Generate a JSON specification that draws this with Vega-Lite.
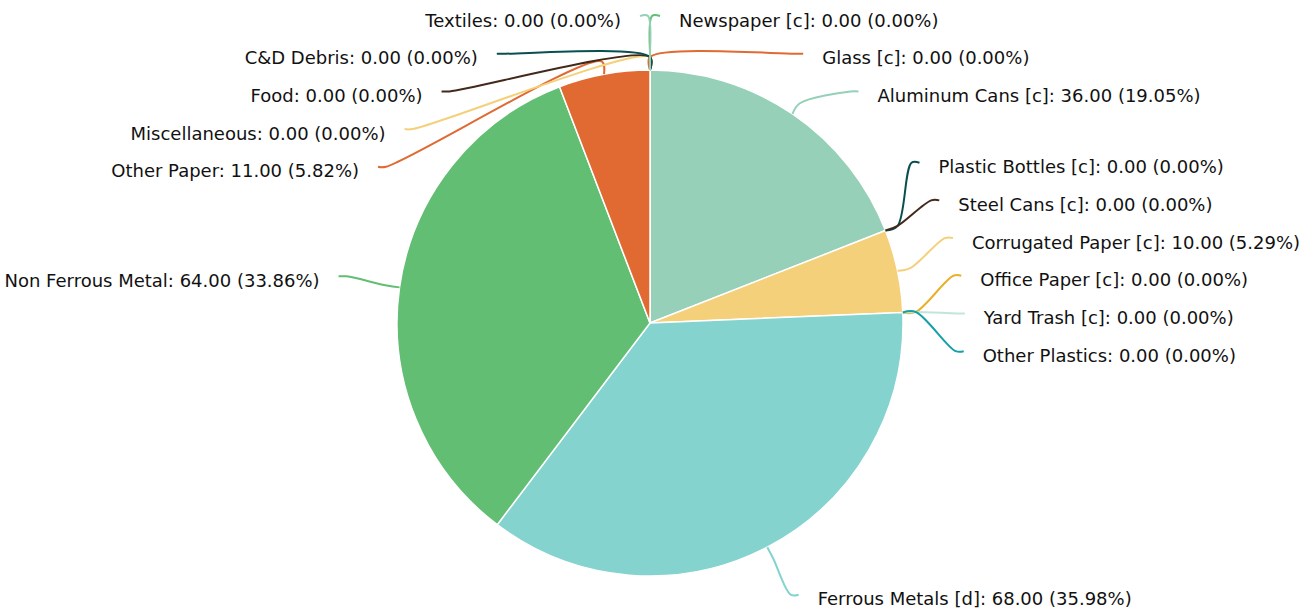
{
  "$schema": "https://vega.github.io/schema/vega-lite/v6.json",
  "width": 1300,
  "height": 580,
  "autosize": {"type": "none"},
  "padding": {"left": 0, "top": 33, "right": 11, "bottom": 0},
  "background": "white",
  "view": {"stroke": null},
  "config": {"text": {"font": "DejaVu Sans"}},
  "data": {
    "values": [
      {"name": "Newspaper [c]", "value": 0},
      {"name": "Glass [c]", "value": 0},
      {"name": "Aluminum Cans [c]", "value": 36},
      {"name": "Plastic Bottles [c]", "value": 0},
      {"name": "Steel Cans [c]", "value": 0},
      {"name": "Corrugated Paper [c]", "value": 10},
      {"name": "Office Paper [c]", "value": 0},
      {"name": "Yard Trash [c]", "value": 0},
      {"name": "Other Plastics", "value": 0},
      {"name": "Ferrous Metals [d]", "value": 68},
      {"name": "Non Ferrous Metal", "value": 64},
      {"name": "Other Paper", "value": 11},
      {"name": "Miscellaneous", "value": 0},
      {"name": "Food", "value": 0},
      {"name": "C&D Debris", "value": 0},
      {"name": "Textiles", "value": 0}
    ]
  },
  "transform": [
    {"window": [{"op": "row_number", "as": "idx"}]},
    {"joinaggregate": [{"op": "sum", "field": "value", "as": "total"}]},
    {"window": [{"op": "sum", "field": "value", "as": "cum"}], "sort": [{"field": "idx"}], "frame": [null, 0]},
    {"calculate": "(datum.cum - datum.value) / datum.total * 2 * PI", "as": "a0"},
    {"calculate": "datum.cum / datum.total * 2 * PI", "as": "a1"},
    {"calculate": "(datum.a0 + datum.a1) / 2", "as": "mid"},
    {"calculate": "datum.mid < PI ? 1 : -1", "as": "side"},
    {"calculate": "datum.side == 1 ? datum.idx : -datum.idx", "as": "sk"},
    {"calculate": "-310 * cos(datum.mid)", "as": "ny"},
    {"window": [{"op": "row_number", "as": "rn"}], "groupby": ["side"], "sort": [{"field": "sk"}]},
    {"calculate": "datum.ny - 37.7 * (datum.rn - 1)", "as": "adj"},
    {"window": [{"op": "max", "field": "adj", "as": "cumF"}], "groupby": ["side"], "sort": [{"field": "sk"}], "frame": [null, 0]},
    {"window": [{"op": "min", "field": "adj", "as": "cumB"}], "groupby": ["side"], "sort": [{"field": "sk"}], "frame": [0, null]},
    {"calculate": "37.7 * (datum.rn - 1) + (datum.cumF + datum.cumB) / 2", "as": "avg"},
    {"calculate": "datum.avg - 37.7 * (datum.rn - 1)", "as": "adj2"},
    {"window": [{"op": "max", "field": "adj2", "as": "cum2"}], "groupby": ["side"], "sort": [{"field": "sk"}], "frame": [null, 0]},
    {"calculate": "37.7 * (datum.rn - 1) + max(-304, datum.cum2)", "as": "ty"},
    {"calculate": "datum.ty - 3", "as": "ly"},
    {"calculate": "datum.side * (sqrt(max(0, 305 * 305 - datum.ly * datum.ly)) + 10)", "as": "lx"},
    {"calculate": "datum.name + ': ' + format(datum.value, '.2f') + ' (' + format(datum.value / datum.total * 100, '.2f') + '%)'", "as": "label"}
  ],
  "layer": [
    {
      "transform": [{"filter": "datum.value > 0"}],
      "mark": {"type": "arc", "outerRadius": 253, "stroke": "white", "strokeWidth": 1.5},
      "encoding": {
        "theta": {"field": "a0", "type": "quantitative", "scale": null},
        "theta2": {"field": "a1"},
        "color": {"field": "name", "type": "nominal", "legend": null, "scale": {"domain": ["Newspaper [c]", "Glass [c]", "Aluminum Cans [c]", "Plastic Bottles [c]", "Steel Cans [c]", "Corrugated Paper [c]", "Office Paper [c]", "Yard Trash [c]", "Other Plastics", "Ferrous Metals [d]", "Non Ferrous Metal", "Other Paper", "Miscellaneous", "Food", "C&D Debris", "Textiles"], "range": ["#62be72", "#e06a32", "#96d0b8", "#0a4f4f", "#42291a", "#f4d07a", "#e9b12a", "#c2e5db", "#14a0a6", "#84d3cf", "#62be72", "#e06a32", "#f4d07a", "#42291a", "#0a4f4f", "#96d0b8"]}}
      }
    },
    {
      "transform": [
        {"calculate": "[0, 1, 2, 3]", "as": "pts"},
        {"flatten": ["pts"], "as": ["k"]},
        {"calculate": "datum.k == 0 ? 253 * sin(datum.mid) : datum.k == 1 ? 266 * sin(datum.mid) : datum.k == 2 ? datum.lx - datum.side * 8 : datum.lx", "as": "px"},
        {"calculate": "datum.k == 0 ? -253 * cos(datum.mid) : datum.k == 1 ? -266 * cos(datum.mid) : datum.ly", "as": "py"}
      ],
      "mark": {"type": "line", "interpolate": "catmull-rom", "strokeWidth": 2},
      "encoding": {
        "x": {"field": "px", "type": "quantitative", "scale": {"domain": [-650, 650], "nice": false, "zero": false}, "axis": null},
        "y": {"field": "py", "type": "quantitative", "scale": {"domain": [-290, 290], "reverse": true, "nice": false, "zero": false}, "axis": null},
        "order": {"field": "k"},
        "color": {"field": "name", "type": "nominal", "legend": null}
      }
    },
    {
      "transform": [
        {"filter": "datum.side == 1"},
        {"calculate": "datum.lx + 19", "as": "tx"}
      ],
      "mark": {"type": "text", "align": "left", "baseline": "middle", "dy": 2.5, "fontSize": 18, "color": "#111111"},
      "encoding": {
        "x": {"field": "tx", "type": "quantitative"},
        "y": {"field": "ty", "type": "quantitative"},
        "text": {"field": "label"}
      }
    },
    {
      "transform": [
        {"filter": "datum.side == -1"},
        {"calculate": "datum.lx - 19", "as": "tx"}
      ],
      "mark": {"type": "text", "align": "right", "baseline": "middle", "dy": 2.5, "fontSize": 18, "color": "#111111"},
      "encoding": {
        "x": {"field": "tx", "type": "quantitative"},
        "y": {"field": "ty", "type": "quantitative"},
        "text": {"field": "label"}
      }
    }
  ]
}
